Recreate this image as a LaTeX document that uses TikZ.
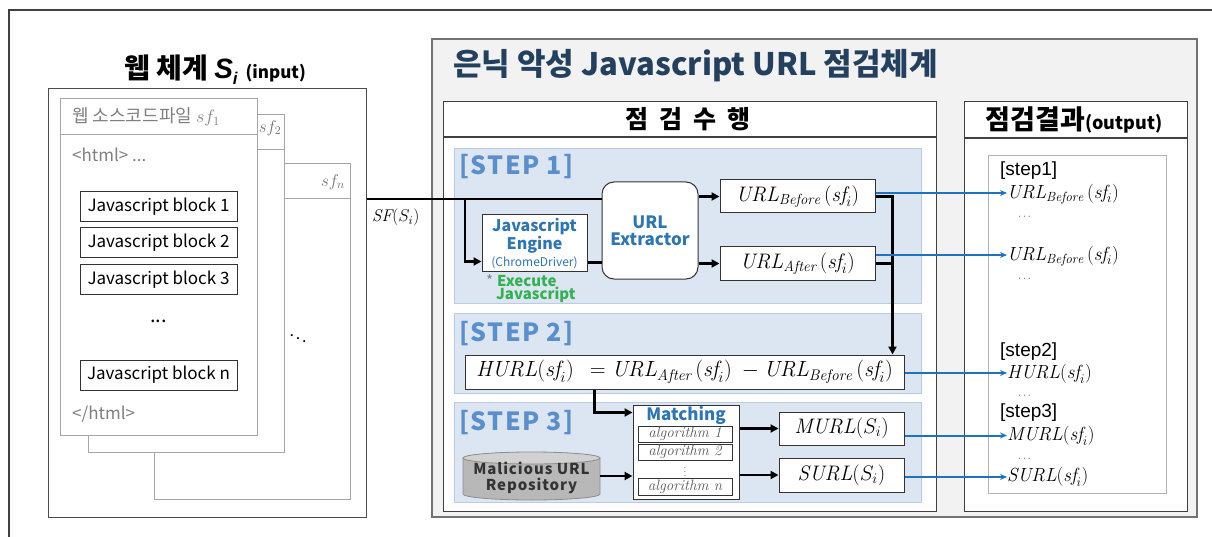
\documentclass[tikz,border=0pt]{standalone}
\usepackage{fix-cm}
\usepackage{fontspec}
\newfontfamily\kr{Noto Sans CJK KR}
\newfontfamily\krsp{Noto Sans CJK KR}[LetterSpace=6]
\newfontfamily\ar{Liberation Sans}
\usetikzlibrary{arrows.meta,calc}
\newcommand\fsz[1]{\fontsize{#1}{#1}\selectfont}
\definecolor{navy}{HTML}{24405F}
\definecolor{steplbl}{HTML}{5A8FCB}
\definecolor{stepfill}{HTML}{DCE6F2}
\definecolor{stepline}{HTML}{B8CCE4}
\definecolor{engblue}{HTML}{2E75B6}
\definecolor{exgreen}{HTML}{33B050}
\definecolor{arrblue}{HTML}{1F72BE}
\definecolor{panelfill}{HTML}{F2F2F2}
\tikzset{
  pagebox/.style={draw=black!35,fill=white,line width=1pt,anchor=north west,inner sep=0pt},
  jsblock/.style={draw=black!80,fill=white,line width=1pt,minimum width=157pt,minimum height=30pt,inner sep=0pt,font=\kr\fsz{17}},
  stepbg/.style={draw=stepline,fill=stepfill,line width=1pt,anchor=north west,inner sep=0pt},
  steplabel/.style={anchor=west,text=steplbl,font=\krsp\bfseries\fsz{25},inner sep=0pt},
  resbox/.style={draw=black!80,fill=white,line width=1pt,inner sep=0pt},
  arr/.style={line width=2.4pt,-{Triangle[length=8pt,width=8pt]}},
  thk/.style={line width=2.4pt},
  barr/.style={draw=arrblue,line width=2pt,-{Stealth[length=7pt,width=6pt]}},
  outtxt/.style={anchor=west,inner sep=0pt,font=\fsz{19}},
  steptxt/.style={anchor=west,inner sep=0pt,font=\ar\fsz{19}},
  odots/.style={anchor=west,inner sep=0pt,text=black!65,font=\fsz{11}},
  alg/.style={draw=black!80,fill=white,line width=0.8pt,minimum width=94pt,inner sep=0pt,text=black!65,font=\fsz{15}\itshape},
}
\begin{document}
\begin{tikzpicture}[x=1pt,y=-1pt,font=\kr]
\useasboundingbox (0,0) rectangle (1212,537);
\fill[white] (0,0) rectangle (1212,537);
% outer frame
\draw[black!75,line width=1.5pt] (9,537) -- (9,10) -- (1212,10);

% ---------- left: input ----------
\node (tin) at (215,70) {\fsz{28}\bfseries 웹 체계 {\ar\itshape S}\raisebox{-6pt}{\fsz{17}\ar\bfseries\itshape i}\hspace{8pt}\fsz{17}(input)};
\node[draw=black!70,line width=1.3pt,anchor=north west,minimum width=318pt,minimum height=429pt,inner sep=0pt] (inbox) at (48,88) {};
\node[pagebox,minimum width=196pt,minimum height=336pt] (pn) at (154,163) {};
\draw[black!35,line width=1pt] (154,199) -- (350,199);
\node (lsfn) at (333,182) {\fsz{17}\color{black!55}$sf_n$};
\node (dd) at (298,335) {\fsz{16}$\ddots$};
\node[pagebox,minimum width=196pt,minimum height=338pt] (p2) at (88,114) {};
\draw[black!35,line width=1pt] (88,150) -- (284,150);
\node (lsf2) at (270,128) {\fsz{17}\color{black!55}$sf_2$};
\node[pagebox,minimum width=197pt,minimum height=337pt] (p1) at (60,98) {};
\draw[black!35,line width=1pt] (60,135) -- (257,135);
\node[anchor=west,inner sep=0pt] (lsf1) at (72,117) {\fsz{18}\color{black!50}웹 소스코드파일 $sf_1$};
\node[anchor=west,inner sep=0pt,text=black!50] (html1) at (72,155) {\fsz{17}<html> ...};
\node[jsblock] (b1) at (158.5,207) {Javascript block 1};
\node[jsblock] (b2) at (158.5,243) {Javascript block 2};
\node[jsblock] (b3) at (158.5,279.5) {Javascript block 3};
\node (bdots) at (158.5,321) {\fsz{20}...};
\node[jsblock] (bn) at (158.5,375) {Javascript block n};
\node[anchor=west,inner sep=0pt,text=black!50] (html2) at (72,414) {\fsz{17}</html>};

% ---------- main panel ----------
\node[draw=black!55,fill=panelfill,line width=1.6pt,anchor=north west,minimum width=765pt,minimum height=478pt,inner sep=0pt] (main) at (431,38) {};
\node[anchor=west,inner sep=0pt,text=navy] (mtitle) at (453,66) {\fsz{31}\bfseries 은닉 악성 Javascript URL 점검체계};

% check panel
\node[draw=black!75,fill=white,line width=1.2pt,anchor=north west,minimum width=493pt,minimum height=410pt,inner sep=0pt] (chk) at (443,101) {};
\draw[black!75,line width=1.2pt] (443,137) -- (936,137);
\node (chkt) at (688,119) {\fsz{25}\bfseries 점\hspace{5pt} 검\hspace{5pt} 수\hspace{5pt} 행};

% output panel
\node[draw=black!75,fill=white,line width=1.2pt,anchor=north west,minimum width=223pt,minimum height=410pt,inner sep=0pt] (outp) at (964,101) {};
\draw[black!75,line width=1.2pt] (964,138) -- (1187,138);
\node (outt) at (1074,120) {\fsz{27}\bfseries 점검결과\fsz{18}(output)};
\node[draw=black!30,line width=1pt,anchor=north west,minimum width=178pt,minimum height=338pt,inner sep=0pt] (inner) at (988,155) {};

% steps
\node[stepbg,minimum width=467pt,minimum height=155pt] (s1) at (454,148) {};
\node[stepbg,minimum width=467pt,minimum height=80pt] (s2) at (454,313) {};
\node[stepbg,minimum width=467pt,minimum height=100pt] (s3) at (454,402) {};
\node[steplabel] (l1) at (459,167) {[STEP 1]};
\node[steplabel] (l2) at (459,334) {[STEP 2]};
\node[steplabel] (l3) at (459,423) {[STEP 3]};

% step 1
\node[resbox,minimum width=105pt,minimum height=57pt,align=center] (eng) at (534.5,243.5)
  {\fsz{16}\bfseries\color{engblue}Javascript\\[1pt]\fsz{16}\bfseries\color{engblue}Engine\\[2pt]\fsz{12}\color{engblue}(ChromeDriver)};
\node[anchor=north west,inner sep=0pt,align=left] (exec) at (486,274)
  {\fsz{15}{\color{black!50}*}\hspace{4pt}\bfseries\color{exgreen}Execute\\[0pt]\hspace{10pt}\fsz{15}\bfseries\color{exgreen}Javascript};
\node[resbox,rounded corners=12pt,minimum width=96pt,minimum height=97pt,align=center] (ex) at (650,230.5)
  {\fsz{17}\bfseries\color{engblue}URL\\[3pt]\fsz{17}\bfseries\color{engblue}Extractor};
\node[resbox,minimum width=155pt,minimum height=33pt] (ub) at (797.5,196.5) {\fsz{21}$\mathit{URL}_{\mathit{Before}}\,(\mathit{sf}_i)$};
\node[resbox,minimum width=155pt,minimum height=33pt] (ua) at (797.5,263.5) {\fsz{21}$\mathit{URL}_{\mathit{After}}\,(\mathit{sf}_i)$};

% step 2
\node[resbox,minimum width=439pt,minimum height=34pt] (hurl) at (684.5,372)
  {\fsz{22}$\mathit{HURL}(\mathit{sf}_i)\ \ =\mathit{URL}_{\mathit{After}}\,(\mathit{sf}_i)\ \ \mathrm{-}\ \mathit{URL}_{\mathit{Before}}\,(\mathit{sf}_i)$};

% step 3
\node[resbox,minimum width=106pt,minimum height=94pt] (mat) at (686,452) {};
\node[inner sep=0pt] (matt) at (686,415) {\fsz{17}\bfseries\color{engblue}Matching};
\node[alg,minimum height=16pt] (a1) at (685,434) {algorithm 1};
\node[alg,minimum height=16pt] (a2) at (685,452) {algorithm 2};
\node[inner sep=0pt,text=black!50] (adots) at (685,469) {\fsz{8}$\vdots$};
\node[alg,minimum height=17pt] (an) at (685,486.5) {algorithm \textit{n}};
\fill[black!28] (463,458) -- (463,494) arc[start angle=180,end angle=360,x radius=68.5pt,y radius=6pt] -- (600,458) arc[start angle=0,end angle=180,x radius=68.5pt,y radius=6pt] -- cycle;
\draw[black!45,line width=0.8pt] (463,458) -- (463,494) arc[start angle=180,end angle=360,x radius=68.5pt,y radius=6pt] -- (600,458);
\draw[black!45,fill=black!18,line width=0.8pt] (531.5,458) ellipse[x radius=68.5pt,y radius=6pt];
\node[inner sep=0pt,minimum width=137pt,minimum height=48pt,align=center] (repo) at (531.5,478)
  {\krsp\fsz{15}\bfseries\color{black!80}Malicious URL\\[3pt]\krsp\fsz{15}\bfseries\color{black!80}Repository};
\node[resbox,minimum width=125pt,minimum height=33pt] (murl) at (841.5,428.5) {\fsz{21}$\mathit{MURL}(S_i)$};
\node[resbox,minimum width=125pt,minimum height=34pt] (surl) at (841.5,475) {\fsz{21}$\mathit{SURL}(S_i)$};

% black connectors
\coordinate (sf) at (inbox.east |- 0,199);
\coordinate (br) at (465,199);
\draw[thk] (sf) -- (sf -| ex.west);
\node[anchor=north west,inner sep=0pt] (sflab) at (372,209) {\fsz{17}$\mathit{SF}(S_i)$};
\draw[arr] (br) |- ($(eng.south west)+(0,-11)$);
\coordinate (ee) at ($(eng.south east)+(0,-10)$);
\draw[thk] (ee) -- (ee -| ex.west);
\draw[arr] (ex.east |- ub.west) -- (ub.west);
\draw[arr] (ex.east |- ua.west) -- (ua.west);
\coordinate (hv) at ($(hurl.north east)+(-12,0)$);
\draw[arr] (ub.east) -| (hv);
\draw[thk] (ua.east) -- (ua.east -| hv);
\coordinate (hd) at ($(hurl.south west)+(130,0)$);
\draw[arr] (hd) |- ($(mat.north west)+(0,8)$);
\draw[arr] (repo.east |- 0,476) -- (mat.west |- 0,476);
\draw[arr] (mat.east |- murl.west) -- (murl.west);
\draw[arr] (mat.east |- surl.west) -- (surl.west);

% output texts
\node[steptxt] (st1) at (1000,171) {[step1]};
\node[outtxt] (o1) at (1007,194) {$\mathit{URL}_{\mathit{Before}}\,(\mathit{sf}_i)$};
\node[odots] (d1) at (1018,217) {$\cdots$};
\node[outtxt] (o2) at (1007,256) {$\mathit{URL}_{\mathit{Before}}\,(\mathit{sf}_i)$};
\node[odots] (d2) at (1018,279) {$\cdots$};
\node[steptxt] (st2) at (1000,352) {[step2]};
\node[outtxt] (o3) at (1007,374) {$\mathit{HURL}(\mathit{sf}_i)$};
\node[odots] (d3) at (1018,396) {$\cdots$};
\node[steptxt] (st3) at (1000,413) {[step3]};
\node[outtxt] (o4) at (1007,436) {$\mathit{MURL}(\mathit{sf}_i)$};
\node[odots] (d4) at (1018,459) {$\cdots$};
\node[outtxt] (o5) at (1007,477) {$\mathit{SURL}(\mathit{sf}_i)$};

% blue connectors
\coordinate (c1) at ($(ub.east)+(0,-3.5)$);
\coordinate (c2) at ($(ua.east)+(0,-8.5)$);
\coordinate (c3) at ($(hurl.east)+(0,1)$);
\coordinate (c4) at ($(murl.east)+(0,7)$);
\coordinate (c5) at ($(surl.east)+(0,2)$);
\draw[barr] (c1) -- (c1 -| o1.west);
\draw[barr] (c2) -- (c2 -| o2.west);
\draw[barr] (c3) -- (c3 -| o3.west);
\draw[barr] (c4) -- (c4 -| o4.west);
\draw[barr] (c5) -- (c5 -| o5.west);
\end{tikzpicture}
\end{document}
